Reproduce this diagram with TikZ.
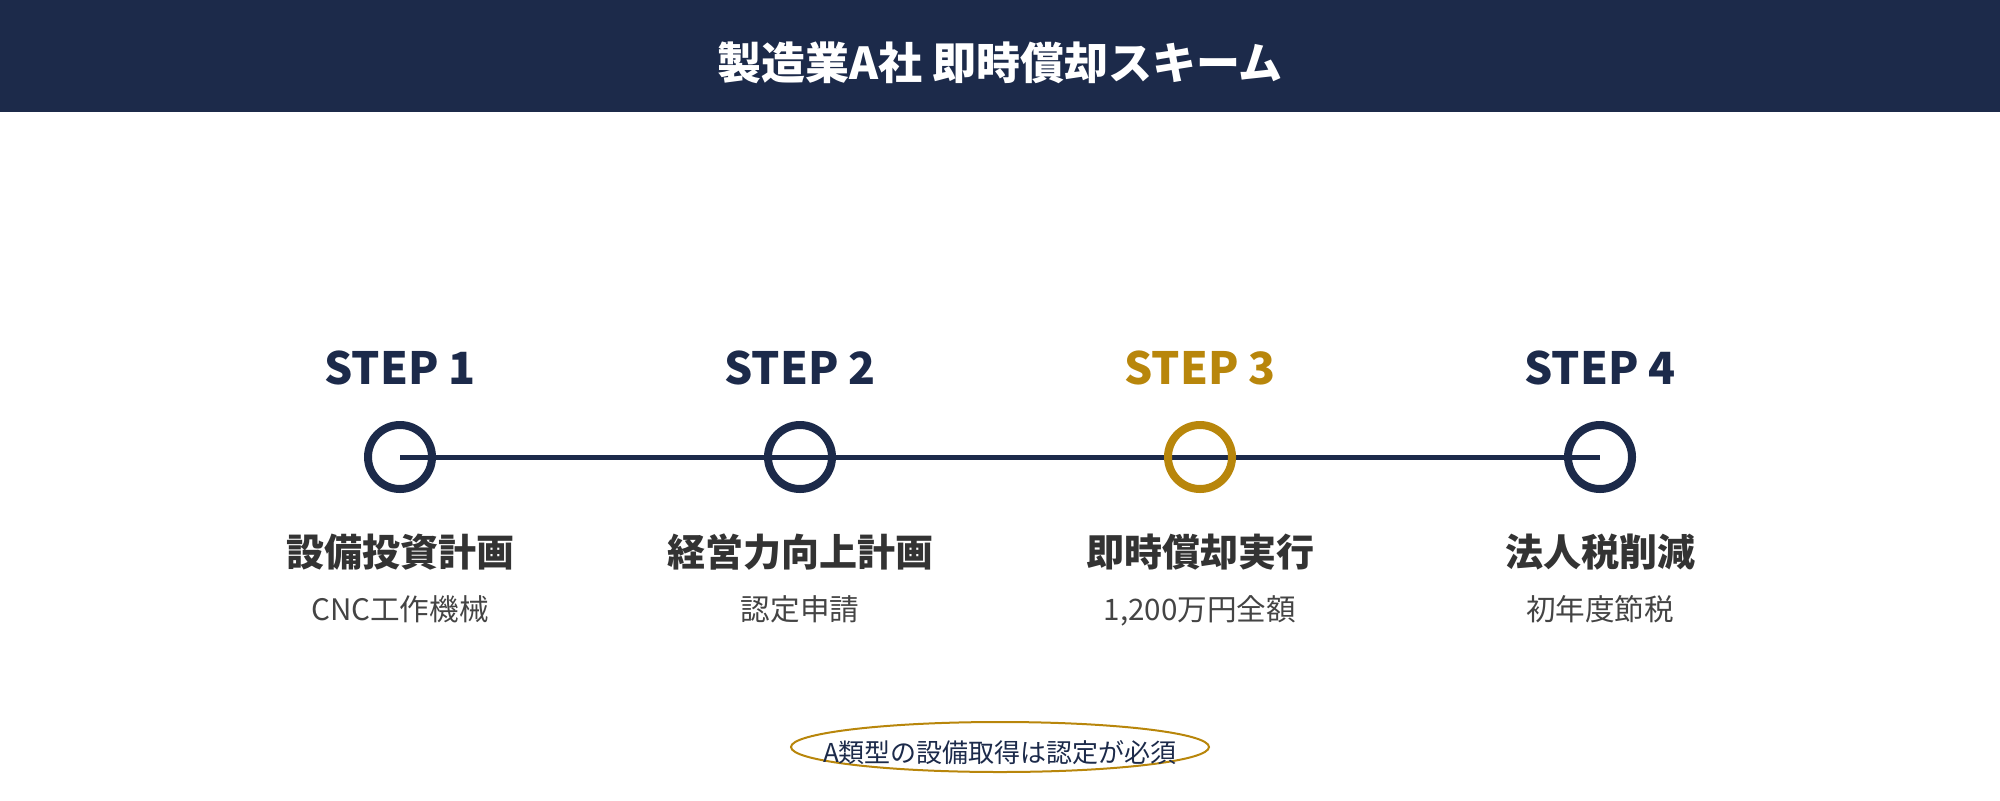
\documentclass[tikz,border=0pt]{standalone}
\usepackage{fontspec}
\setmainfont{Noto Sans CJK JP}
\usetikzlibrary{shapes.geometric}
\pgfdeclarelayer{background}
\pgfsetlayers{background,main}
\definecolor{navy}{HTML}{1C2A4A}
\definecolor{gold}{HTML}{B8860B}
\definecolor{textdark}{HTML}{333333}
\definecolor{textmid}{HTML}{444444}
\tikzset{
  steplabel/.style={anchor=base, inner sep=0pt, font=\fontsize{22.2bp}{27bp}\selectfont\bfseries, text=navy},
  stepring/.style={circle, draw=navy, line width=4bp, minimum size=32bp, inner sep=0pt},
  maintext/.style={anchor=base, inner sep=0pt, font=\fontsize{19bp}{24bp}\selectfont\bfseries, text=textdark},
  subtext/.style={anchor=base, inner sep=0pt, font=\fontsize{14.8bp}{18bp}\selectfont, text=textmid},
  timeline/.style={draw=navy, line width=2.5bp},
}
\begin{document}
\begin{tikzpicture}[x=0.5bp, y=-0.5bp]
\useasboundingbox (0,0) rectangle (2000,800);
\fill[navy] (0,0) rectangle (2000,112);
\node[anchor=base, inner sep=0pt, text=white, font=\fontsize{22bp}{26bp}\selectfont\bfseries] (title) at (1000,79) {製造業A社 即時償却スキーム};

\node[stepring] (c1) at (400,457) {};
\node[stepring] (c2) at (800,457) {};
\node[stepring, draw=gold] (c3) at (1200,457) {};
\node[stepring] (c4) at (1600,457) {};
\begin{pgfonlayer}{background}
\draw[timeline] (c1.center) -- (c4.center);
\end{pgfonlayer}

\node[steplabel] (s1) at (400,384) {STEP 1};
\node[steplabel] (s2) at (800,384) {STEP 2};
\node[steplabel, text=gold] (s3) at (1200,384) {STEP 3};
\node[steplabel] (s4) at (1600,384) {STEP 4};

\node[maintext] (m1) at (400,566) {設備投資計画};
\node[maintext] (m2) at (800,566) {経営力向上計画};
\node[maintext] (m3) at (1200,566) {即時償却実行};
\node[maintext] (m4) at (1600,566) {法人税削減};

\node[subtext] (t1) at (400,620) {CNC工作機械};
\node[subtext] (t2) at (800,620) {認定申請};
\node[subtext] (t3) at (1200,620) {1,200万円全額};
\node[subtext] (t4) at (1600,620) {初年度節税};

\node[ellipse, draw=gold, line width=1bp, minimum width=209bp, minimum height=25bp, inner sep=0pt] (note) at (1000,747) {};
\node[anchor=base, inner sep=0pt, text=navy, font=\fontsize{13bp}{16bp}\selectfont] (notetext) at (1000,762) {A類型の設備取得は認定が必須};
\end{tikzpicture}
\end{document}
